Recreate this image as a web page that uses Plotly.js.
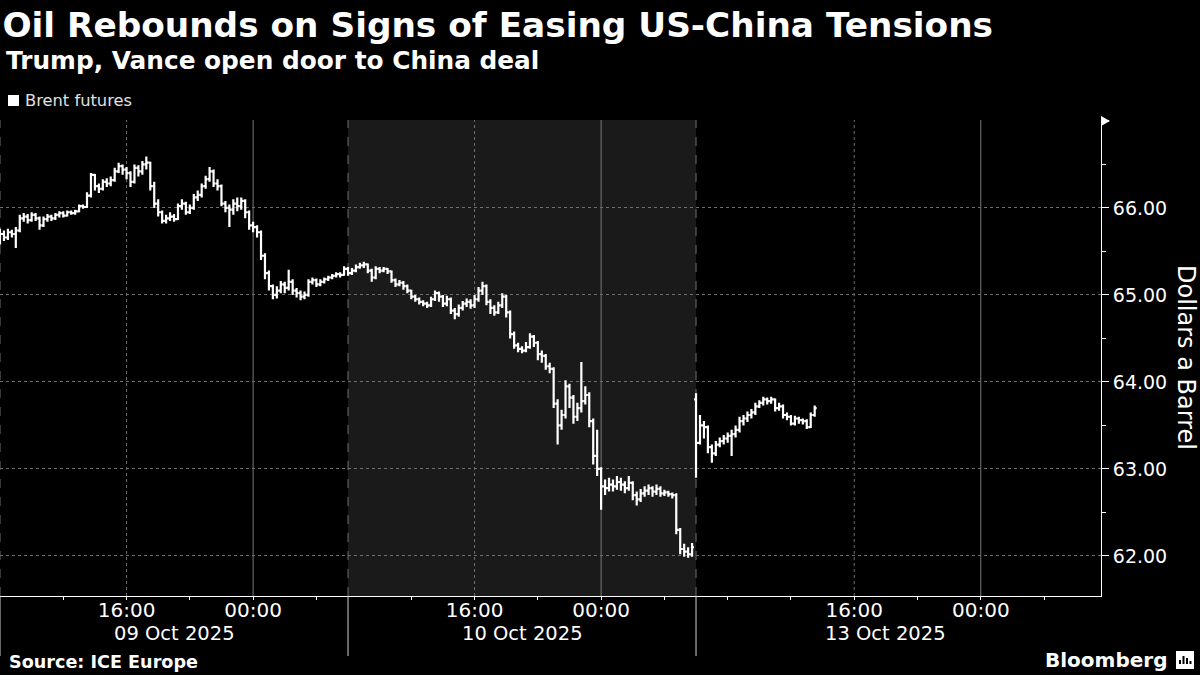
<!DOCTYPE html>
<html>
<head>
<meta charset="utf-8">
<script src="https://cdn.plot.ly/plotly-3.0.1.min.js"></script>
<style>
  html, body { margin: 0; padding: 0; background: #000; }
  #chart { width: 1200px; height: 675px; }
</style>
</head>
<body>
<div id="chart"></div>
<script>
// ---------------- DATA ----------------
// Brent futures, 15-minute OHLC bars, one array set per trading session
const sessionStarts = ['2025-10-09 08:00', '2025-10-10 08:00', '2025-10-13 06:00'];
const dayLabels = ['09 Oct 2025', '10 Oct 2025', '13 Oct 2025'];
const dayLabelAt = ['2025-10-09 19:00', '2025-10-10 19:00', '2025-10-13 18:00'];

const open09 = [65.62,65.70,65.66,65.72,65.70,65.74,65.88,65.90,65.86,65.92,
65.88,65.80,65.87,65.90,65.88,65.92,65.94,65.91,65.95,65.94,
65.96,66.02,66.01,66.14,66.38,66.25,66.22,66.30,66.28,66.32,
66.42,66.48,66.44,66.40,66.30,66.46,66.42,66.50,66.52,66.25,
66.05,65.95,65.85,65.88,65.90,65.87,66.02,66.05,65.95,66.00,
66.12,66.15,66.25,66.33,66.42,66.28,66.25,66.05,66.00,65.98,
66.05,66.02,66.08,65.95,65.80,65.78,65.72,65.45,65.25,65.10,
65.00,65.05,65.12,65.08,65.15,65.05,65.02,64.98,65.00,65.15,
65.17,65.12,65.15,65.18,65.20,65.22,65.24,65.23];
const high09 = [65.76,65.74,65.76,65.75,65.78,65.92,65.94,65.93,65.95,65.94,
65.90,65.90,65.93,65.92,65.94,65.96,65.96,65.97,65.97,65.98,
66.04,66.04,66.18,66.40,66.39,66.28,66.33,66.34,66.36,66.46,
66.52,66.50,66.47,66.42,66.50,66.49,66.54,66.59,66.53,66.30,
66.10,65.97,65.92,65.95,65.93,66.05,66.10,66.07,66.04,66.16,
66.20,66.28,66.37,66.47,66.44,66.33,66.27,66.08,66.04,66.10,
66.12,66.12,66.10,65.97,65.84,65.80,65.74,65.48,65.28,65.12,
65.10,65.16,65.15,65.29,65.18,65.08,65.05,65.04,65.18,65.20,
65.19,65.18,65.20,65.22,65.24,65.26,65.26,65.33];
const low09 = [65.58,65.62,65.63,65.66,65.54,65.72,65.84,65.82,65.84,65.85,
65.75,65.78,65.84,65.85,65.86,65.89,65.89,65.90,65.92,65.92,
65.95,65.99,66.00,66.12,66.20,66.17,66.20,66.24,66.25,66.30,
66.40,66.38,66.33,66.24,66.28,66.36,66.38,66.44,66.20,66.00,
65.90,65.82,65.82,65.85,65.84,65.86,65.98,65.92,65.93,65.98,
66.08,66.12,66.22,66.30,66.24,66.20,66.02,65.95,65.78,65.92,
65.96,65.98,65.88,65.75,65.72,65.66,65.40,65.18,65.05,64.95,
64.96,65.02,65.02,65.05,65.00,64.97,64.94,64.95,64.98,65.12,
65.09,65.10,65.13,65.16,65.18,65.20,65.20,65.22];
const close09 = [65.70,65.66,65.72,65.70,65.74,65.88,65.90,65.86,65.92,65.88,
65.80,65.87,65.90,65.88,65.92,65.94,65.91,65.95,65.94,65.96,
66.02,66.01,66.14,66.38,66.25,66.22,66.30,66.28,66.32,66.42,
66.48,66.44,66.40,66.30,66.46,66.42,66.50,66.52,66.25,66.05,
65.95,65.85,65.88,65.90,65.87,66.02,66.05,65.95,66.00,66.12,
66.15,66.25,66.33,66.42,66.28,66.25,66.05,66.00,65.98,66.05,
66.02,66.08,65.95,65.80,65.78,65.72,65.45,65.25,65.10,65.00,
65.05,65.12,65.08,65.15,65.05,65.02,64.98,65.00,65.15,65.17,
65.12,65.15,65.18,65.20,65.22,65.24,65.23,65.30];

const open10 = [65.30,65.25,65.28,65.32,65.34,65.35,65.28,65.20,65.30,65.28,
65.30,65.27,65.17,65.12,65.14,65.10,65.05,64.98,64.95,64.92,
64.90,64.88,64.95,65.02,64.98,64.90,64.95,64.82,64.78,64.85,
64.90,64.92,64.88,64.95,65.05,65.10,64.92,64.85,64.80,64.88,
64.98,64.80,64.55,64.42,64.38,64.36,64.40,64.52,64.45,64.32,
64.30,64.18,64.15,63.75,63.50,63.62,63.95,63.82,63.60,63.70,
63.78,63.85,63.55,63.15,63.00,62.80,62.78,62.82,62.80,62.85,
62.82,62.78,62.84,62.70,62.65,62.72,62.75,62.78,62.74,62.77,
62.72,62.73,62.71,62.70,62.30,62.08,62.05,62.02];
const high10 = [65.32,65.31,65.35,65.37,65.38,65.36,65.30,65.33,65.32,65.32,
65.31,65.28,65.19,65.17,65.16,65.12,65.06,65.00,64.97,64.94,
64.92,64.98,65.05,65.04,65.00,64.99,64.97,64.85,64.89,64.93,
64.96,64.95,65.00,65.09,65.15,65.12,64.95,64.88,64.92,65.02,
65.00,64.82,64.58,64.45,64.41,64.46,64.56,64.54,64.47,64.36,
64.32,64.22,64.17,63.80,63.68,64.02,63.98,63.85,63.76,64.23,
63.95,63.88,63.58,63.45,63.02,62.88,62.90,62.88,62.92,62.90,
62.86,62.92,62.86,62.74,62.77,62.80,62.82,62.80,62.82,62.80,
62.76,62.75,62.73,62.72,62.32,62.14,62.10,62.15];
const low10 = [65.22,65.23,65.26,65.30,65.31,65.25,65.15,65.18,65.25,65.26,
65.24,65.14,65.09,65.10,65.06,65.02,64.95,64.92,64.89,64.87,
64.85,64.86,64.93,64.92,64.86,64.87,64.78,64.72,64.75,64.82,
64.86,64.84,64.85,64.92,65.00,64.88,64.78,64.76,64.78,64.85,
64.74,64.50,64.38,64.34,64.33,64.34,64.38,64.40,64.25,64.22,
64.14,64.10,63.70,63.28,63.45,63.58,63.70,63.52,63.55,63.65,
63.74,63.48,63.05,62.92,62.53,62.70,62.74,62.74,62.76,62.75,
62.72,62.75,62.64,62.58,62.62,62.68,62.70,62.68,62.70,62.68,
62.69,62.68,62.66,62.25,62.02,61.99,61.98,61.99];
const close10 = [65.25,65.28,65.32,65.34,65.35,65.28,65.20,65.30,65.28,65.30,
65.27,65.17,65.12,65.14,65.10,65.05,64.98,64.95,64.92,64.90,
64.88,64.95,65.02,64.98,64.90,64.95,64.82,64.78,64.85,64.90,
64.92,64.88,64.95,65.05,65.10,64.92,64.85,64.80,64.88,64.98,
64.80,64.55,64.42,64.38,64.36,64.40,64.52,64.45,64.32,64.30,
64.18,64.15,63.75,63.50,63.62,63.95,63.82,63.60,63.70,63.78,
63.85,63.55,63.15,63.00,62.80,62.78,62.82,62.80,62.85,62.82,
62.78,62.84,62.70,62.65,62.72,62.75,62.78,62.74,62.77,62.72,
62.73,62.71,62.70,62.30,62.08,62.05,62.02,62.10];

const open13 = [63.80,63.30,63.50,63.48,63.25,63.18,63.28,63.32,63.35,63.38,
63.40,63.45,63.55,63.58,63.62,63.65,63.72,63.76,63.80,63.78,
63.80,63.70,63.72,63.62,63.60,63.52,63.58,63.56,63.55,63.48,63.62];
const high13 = [63.87,63.62,63.55,63.50,63.28,63.32,63.36,63.39,63.42,63.45,
63.50,63.60,63.62,63.66,63.69,63.76,63.79,63.83,63.82,63.83,
63.81,63.76,63.74,63.65,63.62,63.61,63.60,63.58,63.57,63.65,63.73];
const low13 = [62.90,63.28,63.35,63.18,63.07,63.15,63.25,63.28,63.30,63.15,
63.36,63.42,63.50,63.54,63.58,63.62,63.70,63.73,63.74,63.75,
63.66,63.67,63.58,63.56,63.50,63.50,63.52,63.51,63.46,63.47,63.60];
const close13 = [63.30,63.50,63.48,63.25,63.18,63.28,63.32,63.35,63.38,63.40,
63.45,63.55,63.58,63.62,63.65,63.72,63.76,63.80,63.78,63.80,
63.70,63.72,63.62,63.60,63.52,63.58,63.56,63.55,63.48,63.62,63.70];

const yTickVals = [62, 63, 64, 65, 66, 67];
const yTickText = ['62.00', '63.00', '64.00', '65.00', '66.00', ''];
const xTickVals = ['2025-10-09 12:00','2025-10-09 16:00','2025-10-09 20:00','2025-10-10 00:00','2025-10-10 04:00',
  '2025-10-10 12:00','2025-10-10 16:00','2025-10-10 20:00','2025-10-11 00:00','2025-10-11 04:00',
  '2025-10-13 08:00','2025-10-13 12:00','2025-10-13 16:00','2025-10-13 20:00','2025-10-14 00:00','2025-10-14 04:00'];
const xTickText = ['', '16:00', '', '00:00', '', '', '16:00', '', '00:00', '', '', '', '16:00', '', '00:00', ''];
const hour16 = ['2025-10-09 16:00', '2025-10-10 16:00', '2025-10-13 16:00'];
const hour00 = ['2025-10-10 00:00', '2025-10-11 00:00', '2025-10-14 00:00'];
const sessionEdges = ['2025-10-09 08:00', '2025-10-10 08:00', '2025-10-13 06:00'];

// --------------- BUILD ---------------
function times(start, n) {
  const t0 = Date.parse(start.replace(' ', 'T') + ':00Z');
  const out = [];
  for (let i = 0; i < n; i++) {
    out.push(new Date(t0 + i * 15 * 60000).toISOString().slice(0, 16).replace('T', ' '));
  }
  return out;
}
const xs = [].concat(times(sessionStarts[0], close09.length),
                     times(sessionStarts[1], close10.length),
                     times(sessionStarts[2], close13.length));
const trace = {
  type: 'ohlc',
  x: xs,
  open: [].concat(open09, open10, open13),
  high: [].concat(high09, high10, high13),
  low: [].concat(low09, low10, low13),
  close: [].concat(close09, close10, close13),
  increasing: { line: { color: '#ffffff', width: 2.2 } },
  decreasing: { line: { color: '#ffffff', width: 2.2 } },
  tickwidth: 0.5,
  hoverinfo: 'skip',
  showlegend: false
};

const PW = 1101, PB = 596, PH = 476;
const X = px => px / PW;
const Y = py => (PB - py) / PH;
const FONT = 'DejaVu Sans, Liberation Sans, sans-serif';

const shapes = [];
shapes.push({ type: 'rect', xref: 'x', yref: 'paper', x0: sessionEdges[1], x1: sessionEdges[2], y0: 0, y1: 1,
  fillcolor: '#1a1a1a', line: { width: 0 }, layer: 'below' });
hour16.forEach(t => shapes.push({ type: 'line', xref: 'x', yref: 'paper', x0: t, x1: t, y0: 0, y1: 1,
  line: { color: '#6e6e6e', width: 1, dash: 'dot' }, layer: 'below' }));
hour00.forEach(t => shapes.push({ type: 'line', xref: 'x', yref: 'paper', x0: t, x1: t, y0: 0, y1: 1,
  line: { color: '#7a7a7a', width: 1 }, layer: 'below' }));
sessionEdges.forEach(t => {
  shapes.push({ type: 'line', xref: 'x', yref: 'paper', x0: t, x1: t, y0: 0, y1: 1,
    line: { color: '#6e6e6e', width: 1, dash: 'dash' }, layer: 'below' });
  shapes.push({ type: 'line', xref: 'x', yref: 'paper', x0: t, x1: t, y0: Y(656), y1: 0,
    line: { color: '#d0d0d0', width: 1 } });
});
// legend swatch
shapes.push({ type: 'rect', xref: 'paper', yref: 'paper', x0: X(8), x1: X(19), y0: Y(106), y1: Y(95),
  fillcolor: '#ffffff', line: { width: 0 } });
// y-axis arrow head
shapes.push({ type: 'path', xref: 'paper', yref: 'paper',
  path: `M ${X(1101)},${Y(116)} L ${X(1110)},${Y(121)} L ${X(1101)},${Y(126)} Z`,
  fillcolor: '#ffffff', line: { width: 0 } });
// Bloomberg icon
shapes.push({ type: 'rect', xref: 'paper', yref: 'paper', x0: X(1176), x1: X(1194), y0: Y(669), y1: Y(651),
  fillcolor: '#ffffff', line: { width: 0 } });
[[1180, 664, 660], [1183.5, 664, 656], [1187, 664, 658], [1190.5, 664, 661]].forEach(b =>
  shapes.push({ type: 'line', xref: 'paper', yref: 'paper', x0: X(b[0]), x1: X(b[0]), y0: Y(b[1]), y1: Y(b[2]),
    line: { color: '#000000', width: 2 } }));

const annotations = [];
annotations.push({ xref: 'paper', yref: 'paper', x: X(4), y: Y(60), xanchor: 'left', yanchor: 'middle',
  text: '<b>Trump, Vance open door to China deal</b>', showarrow: false,
  font: { family: FONT, size: 24.8, color: '#ffffff' } });
annotations.push({ xref: 'paper', yref: 'paper', x: X(23), y: Y(100.5), xanchor: 'left', yanchor: 'middle',
  text: 'Brent futures', showarrow: false, font: { family: FONT, size: 16.3, color: '#e0e0e0' } });
dayLabels.forEach((d, i) => annotations.push({ xref: 'x', yref: 'paper', x: dayLabelAt[i], y: Y(633.5),
  xanchor: 'center', yanchor: 'middle', text: d, showarrow: false,
  font: { family: FONT, size: 19.5, color: '#ffffff' } }));
annotations.push({ xref: 'paper', yref: 'paper', x: X(1186), y: Y(357), xanchor: 'center', yanchor: 'middle',
  text: 'Dollars a Barrel', textangle: 90, showarrow: false,
  font: { family: FONT, size: 24, color: '#ffffff' } });
annotations.push({ xref: 'paper', yref: 'paper', x: X(7), y: Y(662), xanchor: 'left', yanchor: 'middle',
  text: '<b>Source: ICE Europe</b>', showarrow: false, font: { family: FONT, size: 17.6, color: '#ffffff' } });
annotations.push({ xref: 'paper', yref: 'paper', x: X(1169), y: Y(660), xanchor: 'right', yanchor: 'middle',
  text: '<b>Bloomberg</b>', showarrow: false, font: { family: FONT, size: 20, color: '#ffffff' } });

const layout = {
  width: 1200, height: 675,
  paper_bgcolor: '#000000', plot_bgcolor: '#000000',
  margin: { l: 0, r: 99, t: 120, b: 79, pad: 0 },
  title: {
    text: '<b>Oil Rebounds on Signs of Easing US-China Tensions</b>',
    font: { family: FONT, size: 34.3, color: '#ffffff' },
    xref: 'container', yref: 'container', x: 0.002, xanchor: 'left', y: 1 - 25 / 675, yanchor: 'middle'
  },
  showlegend: false,
  xaxis: {
    type: 'date',
    range: ['2025-10-09 08:00', '2025-10-14 07:36'],
    rangebreaks: [
      { bounds: ['2025-10-10 06:00', '2025-10-10 08:00'] },
      { bounds: ['2025-10-11 06:00', '2025-10-13 06:00'] }
    ],
    rangeslider: { visible: false },
    tickmode: 'array', tickvals: xTickVals, ticktext: xTickText,
    ticks: 'outside', ticklen: 3, tickcolor: '#ffffff', tickwidth: 1,
    ticklabelstandoff: -7,
    showgrid: false, zeroline: false,
    showline: true, linecolor: '#ffffff', linewidth: 1,
    tickfont: { family: FONT, size: 20, color: '#ffffff' },
    fixedrange: true
  },
  yaxis: {
    side: 'right',
    range: [61.54, 67.01],
    tickmode: 'array', tickvals: yTickVals, ticktext: yTickText,
    ticks: 'outside', ticklen: 7, tickcolor: '#ffffff', tickwidth: 1,
    minor: { dtick: 0.5, tick0: 0, ticks: 'outside', ticklen: 4, tickcolor: '#ffffff', showgrid: false },
    showgrid: true, gridcolor: '#6e6e6e', griddash: 'dot', gridwidth: 1,
    zeroline: false,
    showline: true, linecolor: '#ffffff', linewidth: 1,
    tickfont: { family: FONT, size: 19, color: '#ffffff' },
    fixedrange: true
  },
  shapes: shapes,
  annotations: annotations
};

Plotly.newPlot('chart', [trace], layout, { displayModeBar: false, staticPlot: true });
</script>
</body>
</html>
